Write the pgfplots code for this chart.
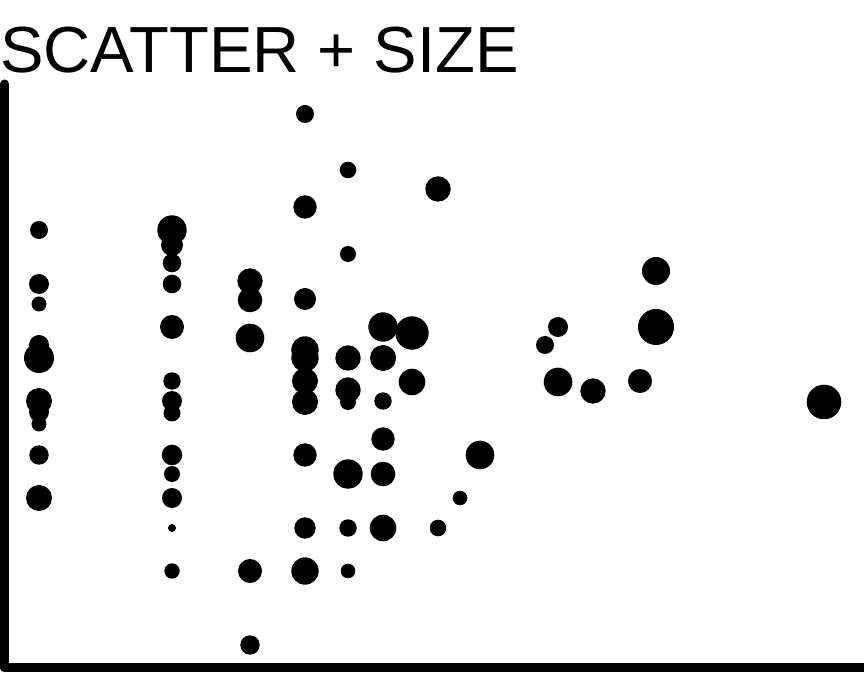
\documentclass[border=0pt]{standalone}
\usepackage{fontspec}
\setmainfont{Liberation Sans}
\usepackage{pgfplots}
\usepackage{pgfplotstable}
\pgfplotsset{compat=1.18}

% x, y in picture units, r = marker radius
\pgfplotstableread{
x y r
39 442 9
39 388 10
39 368 7.5
39 327 10
39 314 15
39 271 13
39 260 10
39 248 7.5
39 217 9.7
39 174 13
172 442 14.7
172 427 11
172 409 9.3
172 388 9.3
172 345 12
172 291 8.7
172 271 10
172 259 8.5
172 217 10.3
172 198 8
172 174 10
172 144 4
172 101 7.7
250 391 12.7
250 372 12.3
250 334 14.3
250 101 12
250 27 9.7
305 558 9
305 465 11.7
305 373 11
305 322 13.7
305 314 13.7
305 291 13
305 270 13
305 217 11.7
305 144 10.7
305 101 13.7
348 502 8.3
348 418 8
348 314 12.7
348 282 12.7
348 270 8
348 198 14.7
348 144 8.7
348 101 7.3
383 345 14.7
383 314 13
383 271 8.7
383 233 11.7
383 198 12.3
383 144 13.3
412 339 16.7
412 290 13.3
438 483 12.7
438 144 8.3
460 174 7.3
480 217 14.3
545 327 9
558 345 10
558 290 14.3
593 281 12.7
640 291 12
656 401 14
656 345 18
824 270 17.3
}\pts

\begin{document}
\begin{tikzpicture}
\begin{axis}[
  x=1pt, y=1pt,
  xmin=4.5, xmax=870, ymin=4.5, ymax=588,
  enlargelimits=false,
  axis x line*=bottom, axis y line*=left,
  axis line style={line width=9pt, line cap=round},
  xtick=\empty, ytick=\empty,
  clip=false,
]
\addplot[scatter, only marks, mark=*,
  scatter/use mapped color={draw opacity=0, fill=black},
  visualization depends on={\thisrow{r} \as \rad},
  scatter/@pre marker code/.append style={/tikz/mark size=\rad pt}]
  table[x=x, y=y] {\pts};
\end{axis}
\node[anchor=base west, inner sep=0pt, font=\fontsize{65.2}{72}\selectfont] at (-4.5pt,594.5pt) {SCATTER + SIZE};
\pgfresetboundingbox
\path (-4.5pt,-4.5pt) rectangle (859.5pt,667.5pt);
\end{tikzpicture}
\end{document}
